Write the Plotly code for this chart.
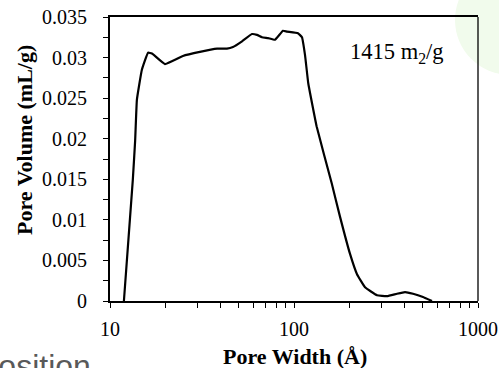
import plotly.graph_objects as go

# Pore width (Å) and pore volume (mL/g)
pore_width = [11.9, 13.3, 13.7, 14.0, 14.9, 16.1, 16.9, 19.9, 24.9, 30.8, 38.2, 43.2,
              46.6, 52.2, 59.1, 62.9, 67.0, 72.3, 78.8, 87.1, 91.6, 105.1, 110.5,
              114.8, 119.6, 132.8, 160.3, 177.8, 201.6, 220.0, 243.2, 282.6,
              320.2, 362.9, 401.2, 443.5, 502.5, 562.3]
pore_volume = [0.0, 0.0149, 0.0198, 0.0248, 0.0285, 0.0306, 0.0305, 0.0292, 0.0302,
               0.0307, 0.0311, 0.0311, 0.0313, 0.0320, 0.0329, 0.0328, 0.0325, 0.0324,
               0.0322, 0.0333, 0.0332, 0.0330, 0.0325, 0.0303, 0.0268, 0.0215,
               0.0145, 0.0104, 0.0058, 0.0033, 0.0017, 0.0007, 0.0006, 0.0009, 0.0011,
               0.0009, 0.0005, 0.0]

y_tickvals = [0, 0.005, 0.01, 0.015, 0.02, 0.025, 0.03, 0.035]
y_ticktext = ["0", "0.005", "0.01", "0.015", "0.02", "0.025", "0.03", "0.035"]
x_tickvals = [10, 100, 1000]
x_ticktext = ["10", "100", "1000"]
x_minor = [20, 30, 40, 50, 60, 70, 80, 90, 200, 300, 400, 500, 600, 700, 800, 900]
y_minor = [0.0025, 0.0075, 0.0125, 0.0175, 0.0225, 0.0275, 0.0325]

serif = "Liberation Serif, Times New Roman, serif"

fig = go.Figure()
fig.add_trace(go.Scatter(
    x=pore_width, y=pore_volume, mode="lines",
    line=dict(color="black", width=2.2, shape="spline", smoothing=0.3),
    showlegend=False, hoverinfo="skip"))

fig.update_layout(
    width=499, height=368,
    margin=dict(l=110, r=21, t=17, b=67),
    paper_bgcolor="white", plot_bgcolor="white",
    font=dict(family=serif, size=20, color="black"),
    xaxis=dict(type="log", range=[1, 3], tickvals=x_tickvals, ticktext=x_ticktext,
               ticks="outside", ticklen=5, tickwidth=1, tickcolor="black",
               minor=dict(tickvals=x_minor, ticks="outside", ticklen=5, tickwidth=1,
                          tickcolor="black", showgrid=False),
               showgrid=False, zeroline=False, showline=True, linecolor="black",
               linewidth=2, mirror=True, ticklabelstandoff=4, automargin=False,
               tickfont=dict(family=serif, size=20)),
    yaxis=dict(range=[0, 0.035], tickvals=y_tickvals, ticktext=y_ticktext,
               ticks="outside", ticklen=5, tickwidth=1, tickcolor="black",
               minor=dict(tickvals=y_minor, ticks="outside", ticklen=5, tickwidth=1,
                          tickcolor="black", showgrid=False),
               showgrid=False, zeroline=False, showline=True, linecolor="black",
               linewidth=2, mirror=False, ticklabelstandoff=12, automargin=False,
               tickfont=dict(family=serif, size=20)),
)

# faint green background blob at top right
fig.add_shape(type="circle", xref="paper", yref="paper",
              x0=0.9375, x1=1.236, y0=0.796, y1=1.183,
              fillcolor="#f1fbec", line=dict(width=0), layer="below")
# thinner right border
fig.add_shape(type="line", xref="paper", yref="paper", x0=1, x1=1, y0=0, y1=1,
              line=dict(color="black", width=1.3))

fig.add_annotation(text="<b>Pore Volume (mL/g)</b>", xref="paper", yref="paper",
                   x=-0.231, y=0.567, textangle=-90, showarrow=False,
                   xanchor="center", yanchor="middle",
                   font=dict(family=serif, size=22, color="black"))
fig.add_annotation(text="<b>Pore Width (Å)</b>", xref="paper", yref="paper",
                   x=0.503, y=-0.197, showarrow=False,
                   xanchor="center", yanchor="middle",
                   font=dict(family=serif, size=22, color="black"))
fig.add_annotation(text="1415 m<sub>2</sub>/g", xref="paper", yref="paper",
                   x=0.648, y=0.873, showarrow=False,
                   xanchor="left", yanchor="middle",
                   font=dict(family=serif, size=22.5, color="black"))
fig.add_annotation(text="Position", xref="paper", yref="paper",
                   x=-0.0462, y=-0.23, showarrow=False,
                   xanchor="right", yanchor="middle",
                   font=dict(family="Liberation Sans, Arial, sans-serif", size=32,
                             color="#595959"))

fig.write_html("out.html")
